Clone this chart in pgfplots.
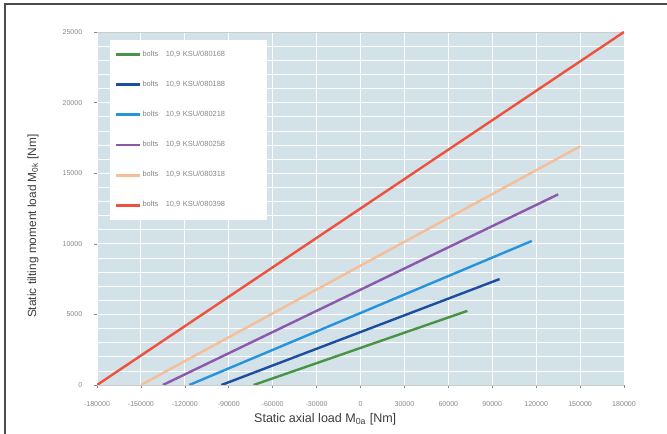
\documentclass[border=0pt]{standalone}
\usepackage{fontspec}
\setmainfont{Liberation Sans}
\usepackage{pgfplots}
\pgfplotsset{compat=1.18}

\definecolor{plotbg}{RGB}{211,225,232}
\definecolor{cgreen}{RGB}{72,148,68}
\definecolor{cdblue}{RGB}{28,78,158}
\definecolor{clblue}{RGB}{38,148,218}
\definecolor{cpurple}{RGB}{140,88,172}
\definecolor{cpeach}{RGB}{246,190,150}
\definecolor{cred}{RGB}{238,82,60}
\definecolor{labelgray}{RGB}{60,60,60}
\definecolor{tickgray}{RGB}{135,135,135}

\begin{document}
\begin{tikzpicture}
\useasboundingbox (0pt,0pt) rectangle (500.25pt,325.5pt);
% frame (left and top edges)
\draw[line width=0.8pt, color=black!70] (3.75pt,0pt) -- (3.75pt,322.5pt) -- (500.25pt,322.5pt);
\begin{axis}[
  at={(72.75pt,36.75pt)}, anchor=south west,
  scale only axis, width=395.25pt, height=264.75pt,
  xmin=-180000, xmax=180000, ymin=0, ymax=25000,
  xtick={-180000,-150000,...,180000},
  xticklabels={-180000,-150000,-120000,-90000,-60000,-30000,0,30000,60000,90000,120000,150000,180000},
  ytick={0,5000,...,25000},
  yticklabels={0,5000,10000,15000,20000,25000},
  scaled ticks=false,
  xtick pos=bottom, ytick pos=left,
  minor y tick num=4,
  axis background/.style={fill=plotbg},
  grid=both,
  major grid style={white, line width=0.7pt},
  minor grid style={white, line width=0.5pt},
  axis line style={draw=none},
  separate axis lines,
  x axis line style={draw=black!20, line width=0.6pt},
  tick style={tickgray, line width=0.4pt},
  tick align=outside,
  major tick length=2pt, minor tick length=0pt,
  ticklabel style={font=\fontsize{5.3}{6}\selectfont, text=tickgray},
  xticklabel style={yshift=-7pt},
  yticklabel style={xshift=-5.5pt},
  xlabel={Static axial load M\textsubscript{0a} [Nm]},
  ylabel={Static tilting moment load M\textsubscript{0k} [Nm]},
  xlabel style={font=\fontsize{9.4}{11}\selectfont, text=labelgray,
    at={(rel axis cs:0.433,0)}, anchor=center, yshift=-26pt},
  ylabel style={font=\fontsize{8.9}{11}\selectfont, text=labelgray,
    at={(rel axis cs:0,0.45)}, anchor=center, yshift=48pt},
  legend cell align=left,
  legend style={at={(rel axis cs:0.0247,0.977)}, anchor=north west,
    draw=none, fill=white, font=\fontsize{5.6}{6.5}\selectfont, text=tickgray,
    inner xsep=3pt, inner ysep=7pt, row sep=15.0pt,
    nodes={text width=89pt, inner sep=1pt}},
  legend image code/.code={\draw[#1, line width=2.2pt] (0pt,0pt) -- (18pt,0pt);},
  every axis plot/.append style={line width=1.8pt},
]
\addplot[cgreen]  coordinates {(-73000,0) (73000,5250)};
\addlegendentry{bolts\quad 10,9 KSU/080168}
\addplot[cdblue]  coordinates {(-95000,0) (95000,7500)};
\addlegendentry{bolts\quad 10,9 KSU/080188}
\addplot[clblue]  coordinates {(-117000,0) (117000,10200)};
\addlegendentry{bolts\quad 10,9 KSU/080218}
\addplot[cpurple] coordinates {(-135000,0) (135000,13500)};
\addlegendentry{bolts\quad 10,9 KSU/080258}
\addplot[cpeach]  coordinates {(-150000,0) (150000,16900)};
\addlegendentry{bolts\quad 10,9 KSU/080318}
\addplot[cred]    coordinates {(-180000,0) (180000,25000)};
\addlegendentry{bolts\quad 10,9 KSU/080398}
\end{axis}
\end{tikzpicture}
\end{document}
